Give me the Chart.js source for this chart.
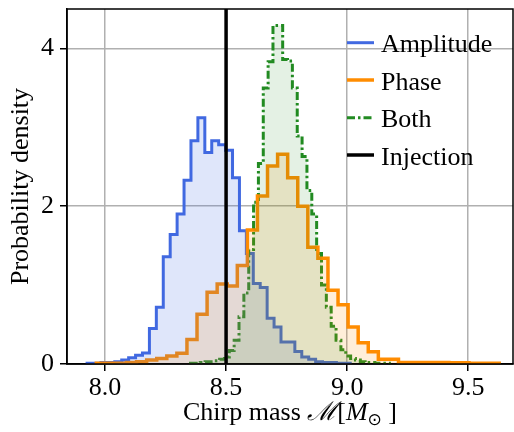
<!DOCTYPE html>
<html>
<head>
<meta charset="utf-8">
<script src="https://cdn.jsdelivr.net/npm/chart.js@4.4.0/dist/chart.umd.min.js"></script>
<style>
  html, body { margin: 0; padding: 0; background: #fff; }
  #wrap { width: 514px; height: 432px; }
</style>
</head>
<body>
<div id="wrap"><canvas id="chirpChart" width="514" height="432"></canvas></div>
<script>
// --- Histogram data (densities) ---
const ampBinStart = 7.926;
const ampBinWidth = 0.0286;
const ampDensity = [0.01, 0.01, 0.02, 0.02, 0.03, 0.05, 0.08, 0.11, 0.14, 0.45,
  0.72, 1.36, 1.64, 1.90, 2.33, 2.83, 3.12, 2.68, 2.83, 2.78,
  2.71, 2.36, 1.69, 1.40, 1.02, 0.97, 0.58, 0.47, 0.28, 0.28,
  0.16, 0.09, 0.06, 0.03, 0.02, 0.02, 0.01, 0.01];

const phaseBinStart = 7.964;
const phaseBinWidth = 0.0416;
const phaseDensity = [0.01, 0.01, 0.01, 0.02, 0.03, 0.05, 0.07, 0.10, 0.135, 0.31,
  0.63, 0.91, 1.015, 0.99, 1.25, 1.70, 2.13, 2.51, 2.66, 2.36,
  2.00, 1.48, 1.34, 0.935, 0.75, 0.47, 0.27, 0.156, 0.06, 0.06,
  0.02, 0.02, 0.02, 0.02, 0.02, 0.015, 0.015, 0.01, 0.01, 0.01];

const bothBinStart = 8.353;
const bothBinWidth = 0.02004;
const bothDensity = [0.01, 0.01, 0.02, 0.03, 0.03, 0.04, 0.06, 0.09, 0.17, 0.30,
  0.60, 0.90, 1.45, 2.05, 2.54, 3.50, 3.83, 4.29, 4.29, 3.86,
  3.84, 3.50, 2.89, 2.63, 2.20, 1.90, 1.40, 1.00, 0.72, 0.48,
  0.30, 0.18, 0.10, 0.07, 0.05, 0.03, 0.02, 0.02, 0.01, 0.01, 0.01];

const injectionMass = 8.5;

const seriesLabels = ['Amplitude', 'Phase', 'Both', 'Injection'];
const xTicks = [8.0, 8.5, 9.0, 9.5];
const yTicks = [0, 2, 4];
const xRange = [7.843, 9.685];
const yRange = [0, 4.5];

// --- Styles ---
const FONT = 'Liberation Serif';
const BLUE = '#4169e1';
const ORANGE = '#ff8c00';
const GREEN = '#228b22';
const DASHDOT = [8, 3, 2.5, 3];

// --- Bin edges -> stepped outline points ---
function stepPoints(start, width, dens) {
  const pts = [{ x: start, y: 0 }];
  dens.forEach((d, i) => pts.push({ x: start + i * width, y: d }));
  const end = start + dens.length * width;
  pts.push({ x: end, y: dens[dens.length - 1] });
  pts.push({ x: end, y: 0 });
  return pts;
}

const ampPts = stepPoints(ampBinStart, ampBinWidth, ampDensity);
const phasePts = stepPoints(phaseBinStart, phaseBinWidth, phaseDensity);
const bothPts = stepPoints(bothBinStart, bothBinWidth, bothDensity);

function outline(label, pts, color, width, dash, order) {
  return {
    label, data: pts, stepped: 'before', fill: false,
    borderColor: color, borderWidth: width, borderDash: dash || [],
    pointRadius: 0, order
  };
}
function shade(pts, rgba, order) {
  return {
    data: pts, stepped: 'before', fill: 'origin',
    backgroundColor: rgba, borderWidth: 0, borderColor: 'rgba(0,0,0,0)',
    pointRadius: 0, order
  };
}

// --- Frame, legend and axis titles ---
const legendItems = [
  { color: BLUE, width: 3, dash: [] },
  { color: ORANGE, width: 3.5, dash: [] },
  { color: GREEN, width: 3, dash: DASHDOT },
  { color: '#000', width: 3.5, dash: [] }
];

const decorPlugin = {
  id: 'decor',
  afterDraw(chart) {
    const { ctx, chartArea: a } = chart;
    ctx.save();
    ctx.strokeStyle = '#000';
    ctx.lineWidth = 1.5;
    ctx.setLineDash([]);
    ctx.strokeRect(a.left, a.top, a.right - a.left, a.bottom - a.top);

    // legend (no frame)
    const rowY = [42.7, 80, 117.7, 155];
    ctx.font = `26px "${FONT}"`;
    ctx.fillStyle = '#000';
    ctx.textBaseline = 'alphabetic';
    ctx.textAlign = 'left';
    seriesLabels.forEach((lab, i) => {
      const it = legendItems[i];
      ctx.beginPath();
      ctx.strokeStyle = it.color;
      ctx.lineWidth = it.width;
      ctx.setLineDash(it.dash);
      ctx.moveTo(347, rowY[i]);
      ctx.lineTo(374, rowY[i]);
      ctx.stroke();
      ctx.setLineDash([]);
      ctx.fillText(lab, 381, rowY[i] + 9.5);
    });

    // y title
    ctx.save();
    ctx.translate(21, (a.top + a.bottom) / 2);
    ctx.rotate(-Math.PI / 2);
    ctx.textAlign = 'center';
    ctx.textBaseline = 'middle';
    ctx.font = `26px "${FONT}"`;
    ctx.fillText('Probability density', 0, 0);
    ctx.restore();

    // x title with subscript
    const parts = [
      { t: 'Chirp mass ', f: `26px "${FONT}"`, dy: 0 },
      { t: 'ℳ', f: `italic 26px "${FONT}"`, dy: 0 },
      { t: '[', f: `26px "${FONT}"`, dy: 0 },
      { t: 'M', f: `italic 26px "${FONT}"`, dy: 0 },
      { t: '⊙', f: `17px "DejaVu Sans"`, dy: 5 },
      { t: ' ]', f: `26px "${FONT}"`, dy: 0 }
    ];
    let total = 0;
    parts.forEach(p => { ctx.font = p.f; p.w = ctx.measureText(p.t).width; total += p.w; });
    let x = (a.left + a.right) / 2 - total / 2;
    const base = 420;
    ctx.textAlign = 'left';
    ctx.textBaseline = 'alphabetic';
    parts.forEach(p => { ctx.font = p.f; ctx.fillText(p.t, x, base + p.dy); x += p.w; });
    ctx.restore();
  }
};

const ctx = document.getElementById('chirpChart').getContext('2d');
const chirpChart = new Chart(ctx, {
  type: 'line',
  data: {
    datasets: [
      {
        label: seriesLabels[3],
        data: [{ x: injectionMass, y: yRange[0] }, { x: injectionMass, y: yRange[1] }],
        borderColor: '#000', borderWidth: 3.5, pointRadius: 0, fill: false, order: 0
      },
      shade(ampPts, 'rgba(65,105,225,0.17)', 3),
      shade(phasePts, 'rgba(255,140,0,0.15)', 2),
      shade(bothPts, 'rgba(34,139,34,0.12)', 1),
      outline(seriesLabels[0], ampPts, BLUE, 3, null, 6),
      outline(seriesLabels[1], phasePts, ORANGE, 3.5, null, 4),
      outline(seriesLabels[2], bothPts, GREEN, 3, DASHDOT, 5)
    ]
  },
  options: {
    responsive: false,
    animation: false,
    events: [],
    layout: { padding: { top: 9, right: 1, left: 0, bottom: 0 } },
    plugins: { legend: { display: false }, tooltip: { enabled: false } },
    scales: {
      x: {
        type: 'linear', min: xRange[0], max: xRange[1],
        afterFit: s => { s.height = 68; s.paddingLeft = 0; s.paddingRight = 0; },
        afterBuildTicks: s => { s.ticks = xTicks.map(v => ({ value: v })); },
        ticks: {
          color: '#000', font: { family: FONT, size: 26 }, padding: 2,
          maxRotation: 0, callback: v => Number(v).toFixed(1)
        },
        grid: { color: '#b0b0b0', lineWidth: 1.5, tickColor: '#000', tickLength: 7, tickWidth: 1.5 },
        border: { display: true, color: '#000', width: 1.5 }
      },
      y: {
        type: 'linear', min: yRange[0], max: yRange[1],
        afterFit: s => { s.width = 67; s.paddingTop = 0; s.paddingBottom = 0; },
        afterBuildTicks: s => { s.ticks = yTicks.map(v => ({ value: v })); },
        ticks: {
          color: '#000', font: { family: FONT, size: 26 }, padding: 6,
          callback: v => String(v)
        },
        grid: { color: '#b0b0b0', lineWidth: 1.5, tickColor: '#000', tickLength: 7, tickWidth: 1.5 },
        border: { display: true, color: '#000', width: 1.5 }
      }
    }
  },
  plugins: [decorPlugin]
});
</script>
</body>
</html>
